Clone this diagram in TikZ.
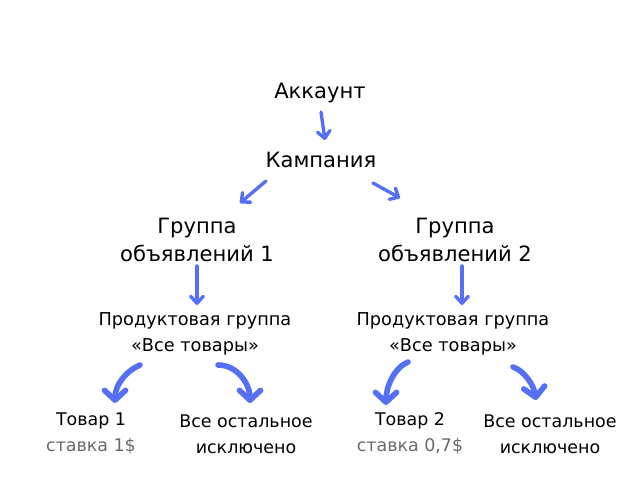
\documentclass[tikz,border=0pt]{standalone}
\usepackage{fontspec}
\setmainfont{DejaVu Sans}
\usepackage{tikz}
\usetikzlibrary{arrows.meta,calc}
\definecolor{arrowblue}{RGB}{86, 112, 245}
\definecolor{rategray}{RGB}{105, 105, 105}

\begin{document}
\begin{tikzpicture}[x=0.025cm, y=-0.025cm,
    level/.style={inner sep=0pt, align=center, text=black,
                  font=\fontsize{15}{19.5}\selectfont},
    product/.style={inner sep=0pt, align=center, text=black,
                    font=\fontsize{12.6}{18}\selectfont},
    leaf/.style={inner sep=0pt, align=center, text=black,
                 font=\fontsize{12.4}{18.5}\selectfont},
    arrow/.style={-{Straight Barb[length=5pt, width=9pt, round]},
                  line width=2.4pt, line cap=round, arrowblue},
    curvy/.style={-{Straight Barb[length=7pt, width=15pt, round]},
                  line width=4pt, line cap=round, arrowblue}
]
\useasboundingbox (0,0) rectangle (640,480);

\node[level] (account) at (320,93) {Аккаунт};
\node[level] (campaign) at (321,160) {Кампания};
\node[level] (groupA) at (197,240) {Группа\\объявлений 1};
\node[level] (groupB) at (455,240) {Группа\\объявлений 2};
\node[product] (prodA) at (195,334) {Продуктовая группа\\«Все товары»};
\node[product] (prodB) at (453,334) {Продуктовая группа\\«Все товары»};
\node[leaf] (itemA) at (91,433) {Товар 1\\{\color{rategray}ставка 1\$}};
\node[leaf] (restA) at (246,434) {Все остальное\\исключено};
\node[leaf] (itemB) at (410,433) {Товар 2\\{\color{rategray}ставка 0,7\$}};
\node[leaf] (restB) at (550,434) {Все остальное\\исключено};

% straight arrows
\draw[arrow] ($(account)+(1,19)$) -- ($(campaign)+(4,-20)$);
\draw[arrow] ($(campaign)+(-55,21)$) -- ($(groupA)+(43,-37)$);
\draw[arrow] ($(campaign)+(52,23)$) -- ($(groupB)+(-55,-42)$);
\draw[arrow] ($(groupA)+(0,26)$) -- ($(prodA)+(2,-29)$);
\draw[arrow] ($(groupB)+(7,26)$) -- ($(prodB)+(9,-29)$);

% curved arrows
\draw[curvy] ($(prodA)+(-55,31)$) .. controls +(-14,6) and +(0,-18) .. ($(itemA)+(24,-30)$);
\draw[curvy] ($(prodA)+(23,31)$) .. controls +(20,0) and +(0,-18) .. ($(restA)+(4,-31)$);
\draw[curvy] ($(prodB)+(-45,28)$) .. controls +(-14,6) and +(0,-18) .. ($(itemB)+(-24,-28)$);
\draw[curvy] ($(prodB)+(60,33)$) .. controls +(12,4) and +(-2,-14) .. ($(restB)+(-14,-34)$);
\end{tikzpicture}
\end{document}
